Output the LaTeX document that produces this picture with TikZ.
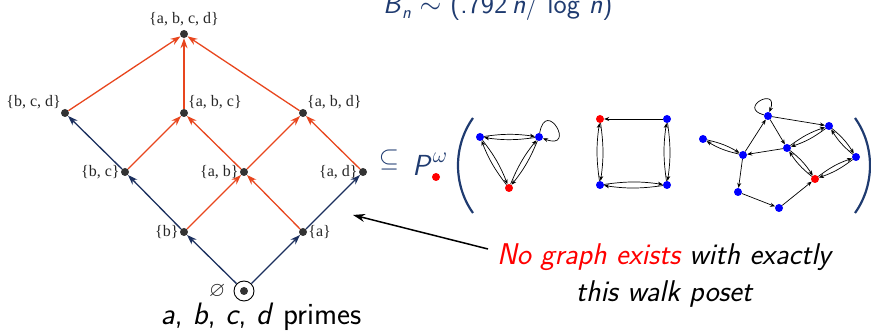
\RequirePackage{fix-cm}
\documentclass[tikz,border=0pt]{standalone}
\usepackage{amssymb}
\usepackage{fontspec}
\newfontfamily\setfont{Liberation Serif}
\usetikzlibrary{arrows.meta,positioning}
\definecolor{navy}{HTML}{1B2F5E}
\definecolor{hot}{HTML}{E8461E}
\definecolor{slate}{HTML}{1F3B70}
\definecolor{dotgray}{HTML}{333333}
\newcommand{\fs}[1]{\fontsize{#1}{#1}\selectfont}

\begin{document}
\begin{tikzpicture}[x=1pt, y=1pt,
  pt/.style={circle, fill=dotgray, inner sep=0pt, minimum size=8pt},
  lab/.style={font=\setfont\fs{16}, text=black!85, inner sep=1pt},
  up/.style={-{Stealth[length=10pt, width=7pt]}, line width=1.3pt},
  gb/.style={circle, fill=blue, inner sep=0pt, minimum size=8pt},
  gr/.style={gb, fill=red},
  ga/.style={-{Stealth[length=5pt, width=4pt]}, line width=0.7pt},
  paren/.style={draw=slate, line width=2.2pt},
  big/.style={font=\sffamily\fs{31}, inner sep=0pt}]
\clip (0,0) rectangle (871,331);

% Hasse diagram of the divisors
\node[pt, label={[lab, label distance=3pt]above:\{a, b, c, d\}}] (abcd) at (184,297) {};
\node[pt, label={[lab]above left:\{b, c, d\}}] (bcd) at (65,218) {};
\node[pt, label={[lab]above right:\{a, b, c\}}] (abc) at (184,218) {};
\node[pt, label={[lab]above right:\{a, b, d\}}] (abd) at (303,218) {};
\node[pt, label={[lab]left:\{b, c\}}] (bc) at (125,159) {};
\node[pt, label={[lab]left:\{a, b\}}] (ab) at (244,159) {};
\node[pt, label={[lab]left:\{a, d\}}] (ad) at (363,159) {};
\node[pt, label={[lab]left:\{b\}}] (b) at (184,99) {};
\node[pt, label={[lab]right:\{a\}}] (a) at (303,99) {};
\node[circle, draw, line width=0.9pt, fill=white, minimum size=20pt, inner sep=0pt] (e) at (244,40) {};
\node[pt] (e0) at (e) {};
\node[lab, left=7pt of e] (empty) {\scalebox{1.3}{$\varnothing$}};

\foreach \s/\t in {e/b, e/a, b/bc, a/ad, bc/bcd}
  \draw[up, navy] (\s) -- (\t);
\foreach \s/\t in {b/ab, a/ab, bc/abc, ab/abc, ab/abd, ad/abd, bcd/abcd, abc/abcd, abd/abcd}
  \draw[up, hot] (\s) -- (\t);

\node[big] (primes) at (261,14) {\textit{a}, \textit{b}, \textit{c}, \textit{d} primes};

% top formula (cut by the frame)
\node[font=\sffamily\fs{28}, text=slate, anchor=base west, inner sep=0pt] (bell) at (383,317)
  {\textit{B}\raisebox{-0.35ex}{\fs{18}\textit{n}} $\sim$ (.792\,\textit{n}/ log \textit{n})};

% P^omega of the graphs
\node[font=\fs{26}, text=slate, inner sep=0pt] (sub) at (389,171) {$\subseteq$};
\node[font=\sffamily\itshape\fs{29}, text=slate, inner sep=0pt] (P) at (421,166) {P};
\node[font=\fs{22}, text=slate, inner sep=0pt] (om) at (440,173) {$\omega$};
\node[gr] (bullet) at (436,154) {};
\draw[paren] (473,213) .. controls (453,185) and (453,146) .. (473,118);
\draw[paren] (855,213) .. controls (875,185) and (875,146) .. (855,118);

% graph 1
\node[gb] (t1) at (480,194) {};
\node[gb] (t2) at (539,194) {};
\node[gr] (t3) at (509,143) {};
\foreach \s/\t in {t1/t2, t2/t1, t1/t3, t3/t1, t2/t3, t3/t2}
  \draw[ga] (\s) to[bend left=8] (\t);
\draw[ga] (t2) to[out=80, in=-20, min distance=36pt] (t2);

% graph 2
\node[gr] (s1) at (600,212) {};
\node[gb] (s2) at (667,212) {};
\node[gb] (s3) at (600,146) {};
\node[gb] (s4) at (667,146) {};
\draw[ga] (s2) -- (s1);
\foreach \s/\t in {s1/s3, s3/s1, s2/s4, s4/s2, s3/s4, s4/s3}
  \draw[ga] (\s) to[bend left=8] (\t);

% graph 3
\node[gb] (n1) at (768,215) {};
\node[gb] (n2) at (829,205) {};
\node[gb] (n3) at (703,192) {};
\node[gb] (n4) at (787,183) {};
\node[gb] (n5) at (743,176) {};
\node[gb] (n6) at (856,174) {};
\node[gr] (n7) at (815,152) {};
\node[gb] (n8) at (738,139) {};
\node[gb] (n9) at (779,123) {};
\foreach \s/\t in {n1/n2, n1/n4, n5/n1, n4/n5, n5/n8, n8/n9, n9/n7}
  \draw[ga] (\s) -- (\t);
\foreach \s/\t in {n3/n5, n5/n3, n2/n4, n4/n2, n2/n6, n6/n2, n6/n7, n7/n6, n4/n7, n7/n4}
  \draw[ga] (\s) to[bend left=9] (\t);
\draw[ga] (n1) to[out=165, in=70, min distance=28pt] (n1);

% remark
\node[big, align=center, font=\sffamily\itshape\fs{30}] (note) at (664,55)
  {\textcolor{red}{No graph exists} with exactly\\[7pt] this walk poset};
\coordinate (tail) at (488,82);
\coordinate (tip) at (353,116);
\draw[-{Stealth[length=12pt, width=8pt]}, line width=1.5pt] (tail) -- (tip);
\end{tikzpicture}
\end{document}
